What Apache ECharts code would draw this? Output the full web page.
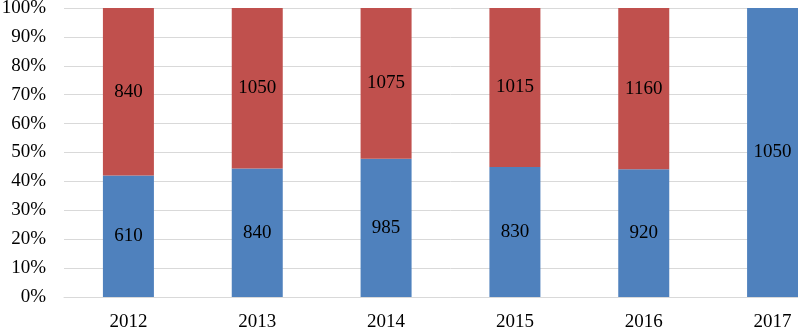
<!DOCTYPE html>
<html>
<head>
<meta charset="utf-8">
<script src="https://cdn.jsdelivr.net/npm/echarts@6/dist/echarts.min.js"></script>
<style>
  html, body { margin: 0; padding: 0; background: #fff; overflow: hidden; }
  /* the original is cropped on the right: draw wider and let the window cut it */
  #chart { width: 837px; height: 330px; }
</style>
</head>
<body>
<div id="chart"></div>
<script>
const years = ['2012', '2013', '2014', '2015', '2016', '2017'];
const blueValues = [610, 840, 985, 830, 920, 1050];
const redValues = [840, 1050, 1075, 1015, 1160, 0];
const yTicks = [0, 10, 20, 30, 40, 50, 60, 70, 80, 90, 100];

// share of each year's total, raw value kept for the label
function toShare(values) {
  return values.map((v, i) => {
    const total = blueValues[i] + redValues[i];
    return { value: total ? v / total * 100 : 0, raw: v };
  });
}

const FONT = '"Liberation Serif", "Times New Roman", serif';

const chart = echarts.init(document.getElementById('chart'));

const labelStyle = {
  show: true,
  position: 'inside',
  color: '#000',
  fontFamily: FONT,
  fontSize: 19,
  formatter: p => (p.data.raw ? String(p.data.raw) : '')
};

chart.setOption({
  animation: false,
  grid: { left: 64, right: 0, top: 8, bottom: 33, outerBoundsMode: 'none' },
  xAxis: {
    type: 'category',
    data: years,
    axisTick: { show: false },
    axisLine: { lineStyle: { color: '#d9d9d9', width: 1 } },
    axisLabel: { color: '#000', fontFamily: FONT, fontSize: 19, margin: 16 }
  },
  yAxis: {
    type: 'value',
    min: yTicks[0],
    max: yTicks[yTicks.length - 1],
    interval: 10,
    axisLine: { show: false },
    axisTick: { show: false },
    splitLine: { lineStyle: { color: '#d9d9d9', width: 1 } },
    axisLabel: {
      color: '#000', fontFamily: FONT, fontSize: 19, margin: 18,
      formatter: v => v + '%'
    }
  },
  series: [
    {
      type: 'bar',
      stack: 'total',
      barWidth: 51,
      itemStyle: { color: '#4f81bd' },
      label: labelStyle,
      data: toShare(blueValues)
    },
    {
      type: 'bar',
      stack: 'total',
      barWidth: 51,
      itemStyle: { color: '#c0504d' },
      label: labelStyle,
      data: toShare(redValues)
    }
  ]
});
</script>
</body>
</html>
